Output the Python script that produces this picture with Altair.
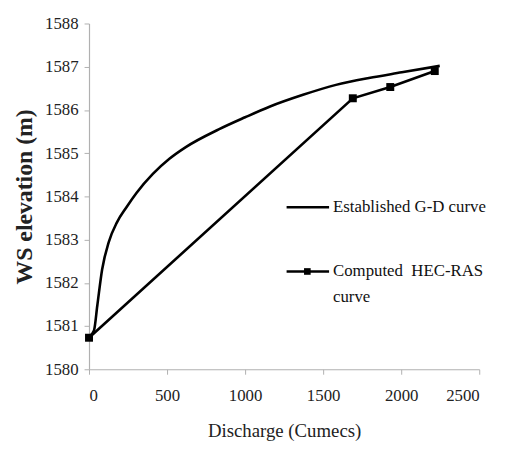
import altair as alt
import pandas as pd

# Established G-D curve
gd_q = [0, 32, 53, 84, 127, 179, 240, 304, 409, 515, 620, 831, 1000, 1160, 1371, 1582, 1793, 2004, 2247]
gd_h = [1580.75, 1580.9, 1581.47, 1582.31, 1582.95, 1583.4, 1583.75, 1584.08, 1584.52, 1584.87, 1585.14,
        1585.55, 1585.83, 1586.08, 1586.35, 1586.58, 1586.74, 1586.87, 1587.02]

# Computed HEC-RAS curve
hec_q = [0, 1690, 1930, 2215]
hec_h = [1580.73, 1586.27, 1586.53, 1586.9]

x_ticks = [0, 500, 1000, 1500, 2000, 2500]
y_ticks = [1580, 1581, 1582, 1583, 1584, 1585, 1586, 1587, 1588]

legend_line1 = ["Established G-D curve"]
legend_line2 = ["Computed \u00a0HEC-RAS"]
legend_line3 = ["curve"]

FONT = "Liberation Serif, Times New Roman, serif"

gd = pd.DataFrame({"q": gd_q, "h": gd_h})
hec = pd.DataFrame({"q": hec_q, "h": hec_h})

xenc = alt.X("q:Q", scale=alt.Scale(domain=[0, 2500], nice=False),
             axis=alt.Axis(values=x_ticks, title="Discharge (Cumecs)", titleFontSize=19,
                           titleFontWeight="normal", titlePadding=18, labelPadding=14,
                           format="d", labelFont=FONT, titleFont=FONT))
yenc = alt.Y("h:Q", scale=alt.Scale(domain=[1580, 1588], nice=False, zero=False),
             axis=alt.Axis(values=y_ticks, title="WS elevation  (m)", titleFontSize=24,
                           titleFontWeight="bold", titlePadding=8, labelPadding=6,
                           format="d", labelFont=FONT, titleFont=FONT))

gd_line = alt.Chart(gd).mark_line(color="black", strokeWidth=2.6, interpolate="monotone").encode(
    x=xenc, y=yenc)
hec_line = alt.Chart(hec).mark_line(color="black", strokeWidth=2.6).encode(x="q:Q", y="h:Q")
hec_pts = alt.Chart(hec).mark_point(shape="square", filled=True, color="black", size=65, opacity=1).encode(
    x="q:Q", y="h:Q")


def txt(lines, y):
    return alt.Chart(pd.DataFrame({"label": lines})).mark_text(
        font=FONT, fontSize=17, align="left", baseline="middle", color="#111").encode(
        x=alt.value(247), y=alt.value(y), text="label:N")


leg_df = pd.DataFrame({"label": legend_line1})
leg1_rule = alt.Chart(leg_df).mark_rule(color="black", strokeWidth=2.6).encode(
    x=alt.value(200), x2=alt.value(243), y=alt.value(186))
leg2_rule = alt.Chart(leg_df).mark_rule(color="black", strokeWidth=2.6).encode(
    x=alt.value(200), x2=alt.value(243), y=alt.value(251))
leg2_pt = alt.Chart(leg_df).mark_point(shape="square", filled=True, color="black",
                                       size=45, opacity=1).encode(
    x=alt.value(221), y=alt.value(251))

chart = alt.layer(gd_line, hec_line, hec_pts, leg1_rule, leg2_rule, leg2_pt,
                  txt(legend_line1, 186), txt(legend_line2, 251), txt(legend_line3, 277)).properties(
    width=395, height=350,
    autosize=alt.AutoSizeParams(type="none"),
    padding={"left": 82, "top": 13, "right": 20, "bottom": 78},
).configure_view(stroke=None).configure_axis(
    grid=False, domainColor="#b0b0b0", tickColor="#b0b0b0", tickSize=5, domainWidth=1.2,
    labelFont=FONT, titleFont=FONT, labelFontSize=17, labelColor="#222", titleColor="#222",
).configure_text(font=FONT)

chart.save("out.html", embed_options={"renderer": "svg", "actions": False})
